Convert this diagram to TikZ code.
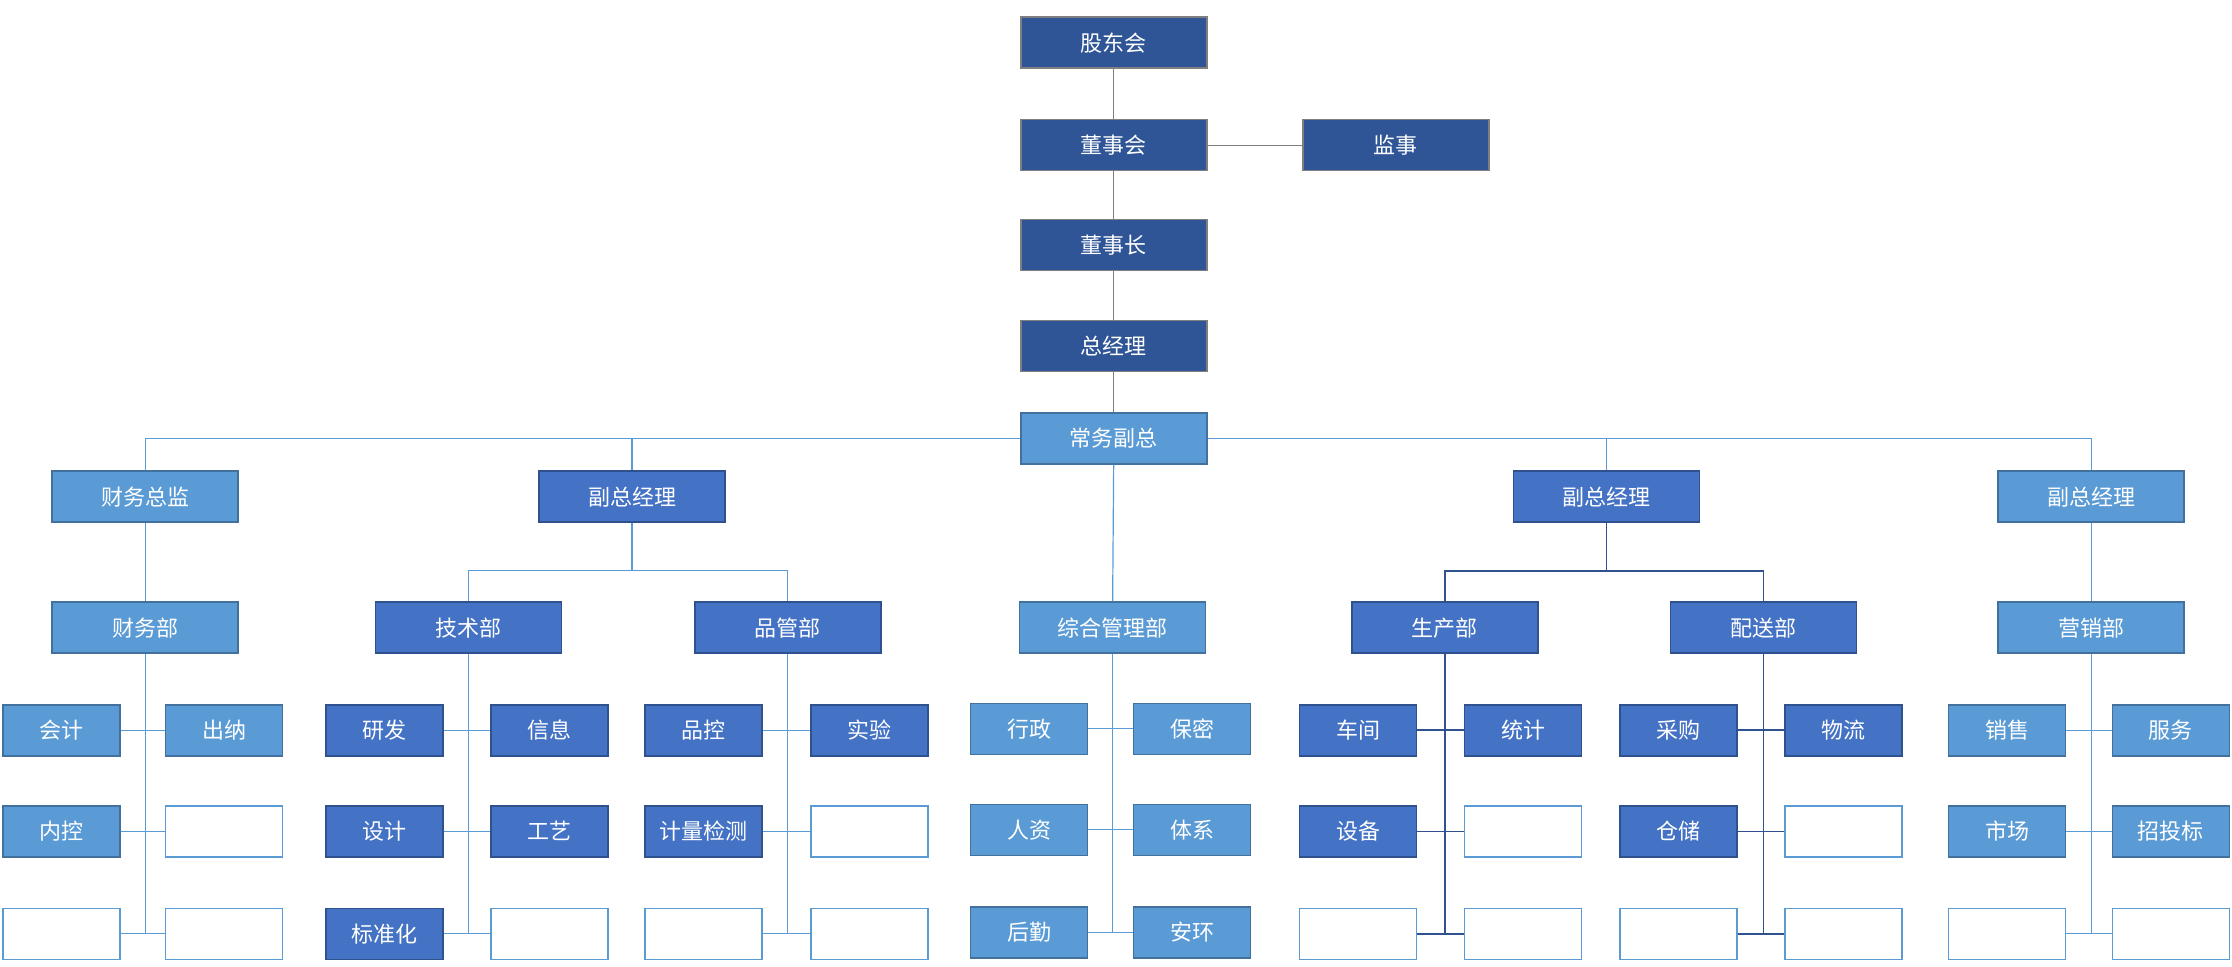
\documentclass[tikz,border=0pt]{standalone}
\usepackage{fontspec}
\setmainfont{Noto Sans CJK SC}
\usetikzlibrary{positioning}
\definecolor{topblue}{HTML}{2F5597}
\definecolor{midblue}{HTML}{4472C4}
\definecolor{midline}{HTML}{2F528F}
\definecolor{lightblue}{HTML}{5B9BD5}
\definecolor{lightline}{HTML}{41719C}
\definecolor{greyline}{HTML}{7F7F7F}

\begin{document}
\begin{tikzpicture}[x=1.4235pt, y=-1.4235pt,
    box/.style={draw, line width=1.6pt, minimum width=186pt, minimum height=51pt,
      inner sep=0pt, text=white, font=\fontsize{22}{26}\selectfont},
    top/.style={box, fill=topblue, draw=greyline},
    mid/.style={box, fill=midblue, draw=midline},
    lt/.style={box, fill=lightblue, draw=lightline},
    small/.style={minimum width=117pt},
    blank/.style={box, small, fill=white, draw=lightblue},
    grey/.style={draw=greyline, line width=1.2pt},
    pale/.style={draw=lightblue, line width=1.2pt},
    dark/.style={draw=midline, line width=1.6pt}]
  \useasboundingbox (0,0) rectangle (1568,679);

  % top of the chain
  \node[top] (gdh) at (782.5,30) {股东会};
  \node[top] (dsh) at (782.5,102) {董事会};
  \node[top] (js) at (980.5,102) {监事};
  \node[top] (dsz) at (782.5,172) {董事长};
  \node[top] (zjl) at (782.5,243) {总经理};
  \node[lt] (cwfz) at (782.5,308) {常务副总};

  % second level
  \node[lt] (cwzj) at (102,349) {财务总监};
  \node[mid] (fz1) at (444,349) {副总经理};
  \node[mid] (fz2) at (1128.5,349) {副总经理};
  \node[lt] (fz3) at (1469,349) {副总经理};

  % departments
  \node[lt] (cwb) at (102,441) {财务部};
  \node[mid] (jsb) at (329,441) {技术部};
  \node[mid] (pgb) at (553.5,441) {品管部};
  \node[lt] (zhb) at (781.5,441) {综合管理部};
  \node[mid] (scb) at (1015,441) {生产部};
  \node[mid] (psb) at (1239,441) {配送部};
  \node[lt] (yxb) at (1469,441) {营销部};

  % units
  \foreach \n/\x/\y/\s/\t in {
      cw1/43/513/lt/会计, cw2/157.5/513/lt/出纳, cw3/43/584/lt/内控,
      cw4/157.5/584/blank/{}, cw5/43/656/blank/{}, cw6/157.5/656/blank/{},
      js1/270/513/mid/研发, js2/386/513/mid/信息, js3/270/584/mid/设计,
      js4/386/584/mid/工艺, js5/270/656/mid/标准化, js6/386/656/blank/{},
      pg1/494/513/mid/品控, pg2/611/513/mid/实验, pg3/494/584/mid/计量检测,
      pg4/611/584/blank/{}, pg5/494/656/blank/{}, pg6/611/656/blank/{},
      zh1/723/512/lt/行政, zh2/837.5/512/lt/保密, zh3/723/583/lt/人资,
      zh4/837.5/583/lt/体系, zh5/723/655/lt/后勤, zh6/837.5/655/lt/安环,
      sc1/954/513/mid/车间, sc2/1070/513/mid/统计, sc3/954/584/mid/设备,
      sc4/1070/584/blank/{}, sc5/954/656/blank/{}, sc6/1070/656/blank/{},
      ps1/1179/513/mid/采购, ps2/1295/513/mid/物流, ps3/1179/584/mid/仓储,
      ps4/1295/584/blank/{}, ps5/1179/656/blank/{}, ps6/1295/656/blank/{},
      yx1/1410/513/lt/销售, yx2/1525/513/lt/服务, yx3/1410/584/lt/市场,
      yx4/1525/584/lt/招投标, yx5/1410/656/blank/{}, yx6/1525/656/blank/{}}
    \node[\s, small] (\n) at (\x,\y) {\t};

  % connectors
  \draw[grey] (gdh) -- (dsh);
  \draw[grey] (dsh) -- (js);
  \draw[grey] (dsh) -- (dsz);
  \draw[grey] (dsz) -- (zjl);
  \draw[grey] (zjl) -- (cwfz);

  \draw[pale] (cwzj.north) |- (cwfz.west);
  \draw[pale] (fz1.north) -- (fz1.north |- cwfz.west);
  \draw[pale] (fz3.north) |- (cwfz.east);
  \draw[pale] (fz2.north) -- (fz2.north |- cwfz.east);
  \draw[pale] (cwfz) -- (zhb);
  \draw[pale] (cwzj) -- (cwb);
  \draw[pale] (fz3) -- (yxb);

  \coordinate (fk1) at (444,401);
  \coordinate (fk2) at (1128.5,401);
  \draw[pale] (fz1.south) -- (fk1);
  \draw[pale] (jsb.north) |- (fk1) -| (pgb.north);
  \draw[dark] (fz2.south) -- (fk2);
  \draw[dark] (scb.north) |- (fk2) -| (psb.north);

  \foreach \d/\g/\st in {cwb/cw/pale, jsb/js/pale, pgb/pg/pale, zhb/zh/pale,
      scb/sc/dark, psb/ps/dark, yxb/yx/pale} {
    \draw[\st] (\d.south) -- (\d.south |- \g5.east);
    \draw[\st] (\g1.east) -- (\g2.west);
    \draw[\st] (\g3.east) -- (\g4.west);
    \draw[\st] (\g5.east) -- (\g6.west);
  }
\end{tikzpicture}
\end{document}
